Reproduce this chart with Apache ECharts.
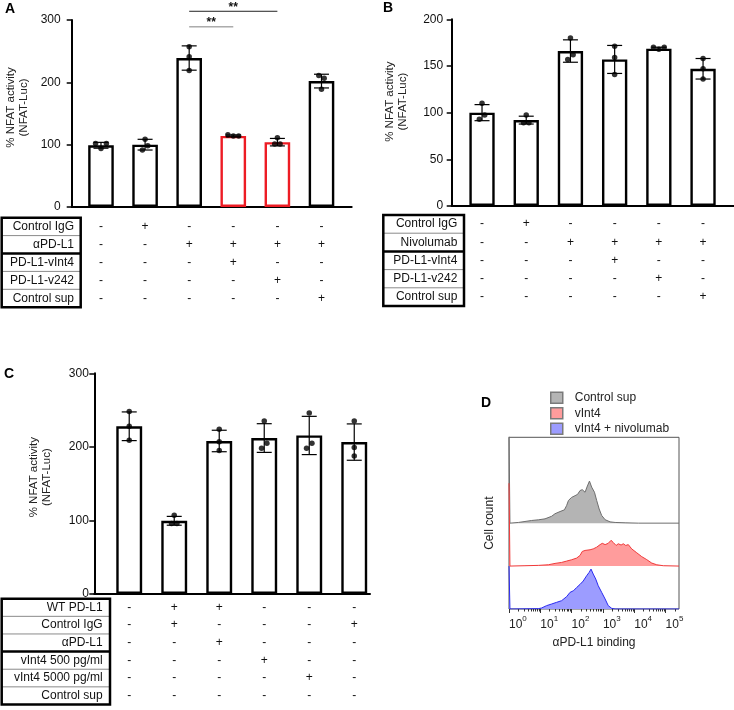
<!DOCTYPE html>
<html><head><meta charset="utf-8">
<script src="https://cdn.jsdelivr.net/npm/echarts@6/dist/echarts.min.js"></script>
<style>html,body{margin:0;padding:0;background:#fff}#c{width:734px;height:710px}</style>
</head><body><div id="c"></div>
<script>
const FONT = '"Liberation Sans", Arial, Helvetica, sans-serif';

// ---------------- Panel A ----------------
const rowsA = ['Control IgG', 'αPD-L1', 'PD-L1-vInt4', 'PD-L1-v242', 'Control sup'];
const signsA = ['-+----', '--++++', '---+--', '----+-', '-----+'];
const yTicksA = [0, 100, 200, 300];
const meanA = [99, 100, 239, 114, 104, 202];
const sdA = [4.7, 8.6, 19.5, 1.5, 6, 11];
const dotsA = [[102, 94, 102], [91.5, 108.6, 98.4], [257, 241, 219], [116, 114, 114], [111, 101, 101], [211, 189, 206.5]];
const sigFromA = [3, 3];
const sigToA = [4, 5];
const sigLevelA = [289, 314];
const sigTextA = ['**', '**'];
const highlightA = [4, 5];

// ---------------- Panel B ----------------
const rowsB = ['Control IgG', 'Nivolumab', 'PD-L1-vInt4', 'PD-L1-v242', 'Control sup'];
const signsB = ['-+----', '--++++', '---+--', '----+-', '-----+'];
const yTicksB = [0, 50, 100, 150, 200];
const meanB = [100, 92, 166, 157, 168.5, 147];
const sdB = [8.6, 4.2, 12, 15, 1.6, 11];
const dotsB = [[92.8, 110, 97.4], [89.2, 97.4, 89.2], [157, 180, 162], [171, 159, 141], [170, 168, 170], [158, 147, 136]];

// ---------------- Panel C ----------------
const rowsC = ['WT PD-L1', 'Control IgG', 'αPD-L1', 'vInt4 500 pg/ml', 'vInt4 5000 pg/ml', 'Control sup'];
const signsC = ['-++---', '-+---+', '--+---', '---+--', '----+-', '------'];
const yTicksC = [0, 100, 200, 300];
const meanC = [228, 99.5, 208, 212, 215.5, 206.5];
const sdC = [19.5, 6, 14.6, 19.5, 26, 24.7];
const dotsC = [[248, 228, 209], [96, 107, 96], [224, 207, 195], [198, 235, 205], [198, 246, 205], [235, 199, 187.5]];

// ---------------- Panel D (log10 of binding, normalised count) ----------------
const histNames = ['Control sup', 'vInt4', 'vInt4 + nivolumab'];
const decadeTicks = [0, 1, 2, 3, 4, 5];
const grayLog = [0, 0.03, 0.30, 0.51, 0.72, 0.94, 1.15, 1.36, 1.47, 1.63, 1.77, 1.84, 1.90, 2.00, 2.11, 2.19, 2.27, 2.34, 2.43, 2.49, 2.57, 2.64, 2.73, 2.80, 2.88, 2.96, 3.07, 3.23, 3.39, 3.71, 4.13, 5.43];
const grayCount = [2.1, 0, 0.016, 0.039, 0.062, 0.078, 0.10, 0.16, 0.22, 0.27, 0.31, 0.41, 0.53, 0.60, 0.64, 0.67, 0.76, 0.78, 0.72, 0.84, 0.98, 0.84, 0.72, 0.53, 0.33, 0.18, 0.08, 0.03, 0.016, 0.008, 0, 0];
const redLog = [0, 0.03, 0.51, 0.94, 1.26, 1.47, 1.68, 1.84, 2.00, 2.16, 2.27, 2.34, 2.43, 2.59, 2.69, 2.80, 2.91, 2.98, 3.07, 3.17, 3.26, 3.33, 3.42, 3.49, 3.58, 3.65, 3.73, 3.81, 3.92, 4.08, 4.24, 4.40, 4.56, 4.72, 4.93, 5.43];
const redCount = [1.93, 0, 0.008, 0.016, 0.031, 0.062, 0.085, 0.116, 0.147, 0.186, 0.248, 0.341, 0.364, 0.38, 0.40, 0.44, 0.50, 0.53, 0.50, 0.53, 0.60, 0.55, 0.48, 0.52, 0.49, 0.52, 0.48, 0.50, 0.40, 0.31, 0.22, 0.15, 0.07, 0.03, 0.008, 0];
const blueLog = [0, 0.03, 0.94, 1.04, 1.20, 1.36, 1.52, 1.68, 1.84, 1.95, 2.06, 2.16, 2.27, 2.37, 2.48, 2.56, 2.62, 2.69, 2.77, 2.85, 2.96, 3.07, 3.17, 3.28, 3.39, 5.43];
const blueCount = [1.0, 0, 0.008, 0.023, 0.078, 0.116, 0.155, 0.194, 0.287, 0.388, 0.426, 0.50, 0.574, 0.651, 0.775, 0.853, 0.93, 0.814, 0.698, 0.543, 0.388, 0.233, 0.078, 0.016, 0, 0];

// ================= build =================
const grid = [], xAxis = [], yAxis = [], series = [], graphic = [];
const RED = '#ed1c24';

function dotOffsets(vals, pxPerVal, thr, spacing) {
  const n = vals.length;
  const idx = vals.map((v, i) => i).sort((a, b) => vals[a] - vals[b]);
  const clusters = []; let cur = [idx[0]];
  for (let k = 1; k < n; k++) {
    if ((vals[idx[k]] - vals[idx[k - 1]]) * pxPerVal < thr) cur.push(idx[k]);
    else { clusters.push(cur); cur = [idx[k]]; }
  }
  clusters.push(cur);
  const off = new Array(n).fill(0);
  clusters.forEach(c => { c.sort((a, b) => a - b); c.forEach((i, j) => { off[i] = (j - (c.length - 1) / 2) * spacing; }); });
  return off;
}

function addBarPanel(p) {
  const gi = grid.length;
  grid.push({left: p.left, top: p.top, width: p.width, height: p.height, outerBoundsMode: 'none'});
  xAxis.push({type: 'value', gridIndex: gi, min: p.xmin, max: p.xmax,
    axisLine: {show: true, onZero: false, lineStyle: {color: '#000', width: 2}},
    axisTick: {show: false}, axisLabel: {show: false}, splitLine: {show: false}});
  const yt = p.yTicks;
  yAxis.push({type: 'value', gridIndex: gi, min: yt[0], max: yt[yt.length - 1], interval: yt[1] - yt[0],
    axisLine: {show: true, lineStyle: {color: '#000', width: 2}},
    axisTick: {show: true, length: 5, lineStyle: {color: '#000', width: 1.5}},
    axisLabel: {margin: p.labelMargin, fontSize: 12, color: '#111', fontFamily: FONT},
    splitLine: {show: false},
    name: '% NFAT activity\n(NFAT-Luc)', nameLocation: 'middle', nameGap: p.nameGap,
    nameTextStyle: {fontSize: 11.5, color: '#222', fontFamily: FONT, lineHeight: 13, padding: [0, 0, 0, p.nameShift]}});
  const xi = xAxis.length - 1, yi = yAxis.length - 1;
  const unitPx = p.width / (p.xmax - p.xmin);
  const pxPerVal = p.height / (yt[yt.length - 1] - yt[0]);
  series.push({type: 'bar', xAxisIndex: xi, yAxisIndex: yi, barWidth: p.barW, z: 2, silent: true,
    data: p.means.map((m, i) => ({value: [i + 1, m],
      itemStyle: {color: '#fff', borderColor: (p.highlight || []).includes(i + 1) ? RED : '#000', borderWidth: 2.4}}))});
  series.push({type: 'custom', xAxisIndex: xi, yAxisIndex: yi, z: 3, silent: true,
    data: p.means.map((m, i) => [i + 1, m, p.sd[i]]),
    renderItem: (params, api) => {
      const x = api.value(0), m = api.value(1), s = api.value(2);
      const t = api.coord([x, m + s]), b = api.coord([x, m - s]);
      const cw = 7.5, st = {stroke: '#000', lineWidth: 1.2};
      return {type: 'group', children: [
        {type: 'line', shape: {x1: t[0], y1: t[1], x2: b[0], y2: b[1]}, style: st},
        {type: 'line', shape: {x1: t[0] - cw, y1: t[1], x2: t[0] + cw, y2: t[1]}, style: st},
        {type: 'line', shape: {x1: b[0] - cw, y1: b[1], x2: b[0] + cw, y2: b[1]}, style: st}]};
    }});
  const dotData = [];
  p.dots.forEach((vals, i) => {
    const off = dotOffsets(vals, pxPerVal, 5.5, 5.4);
    vals.forEach((v, j) => dotData.push([i + 1 + off[j] / unitPx, v]));
  });
  series.push({type: 'scatter', xAxisIndex: xi, yAxisIndex: yi, z: 4, silent: true, symbolSize: 5.5,
    itemStyle: {color: '#000'}, data: dotData});
  return {xi, yi};
}

function addTable(t) {
  const gi = grid.length;
  const n = t.rows.length;
  grid.push({left: t.left, top: t.top, width: t.width, height: t.rowH * n, outerBoundsMode: 'none'});
  xAxis.push({type: 'value', gridIndex: gi, min: t.xmin, max: t.xmax, show: false});
  yAxis.push({type: 'category', gridIndex: gi, data: t.rows, inverse: true,
    axisLine: {show: false}, axisTick: {show: false}, splitLine: {show: false},
    axisLabel: {interval: 0, margin: t.left - t.labelRight, fontSize: 12, color: '#111', fontFamily: FONT}});
  const xi = xAxis.length - 1, yi = yAxis.length - 1;
  const data = [];
  t.signs.forEach((s, r) => { for (let c = 0; c < s.length; c++) data.push([c + 1, r, s[c] === '+' ? 1 : 0]); });
  series.push({type: 'custom', xAxisIndex: xi, yAxisIndex: yi, silent: true, data,
    renderItem: (params, api) => {
      const pt = api.coord([api.value(0), api.value(1)]);
      return {type: 'text', x: pt[0], y: pt[1],
        style: {text: api.value(2) ? '+' : '-', align: 'center', verticalAlign: 'middle',
          textAlign: 'center', textVerticalAlign: 'middle', fontSize: 12, fill: '#111', fontFamily: FONT}};
    }});
  const bottom = t.top + t.rowH * n;
  for (let r = 1; r < n; r++) {
    const y = t.top + r * t.rowH;
    const thick = r === t.thickAfter;
    graphic.push({type: 'line', silent: true, shape: {x1: t.boxLeft, y1: y, x2: t.boxRight, y2: y},
      style: {stroke: thick ? '#000' : '#8a8a8a', lineWidth: thick ? 2.5 : 1}});
  }
  graphic.push({type: 'rect', silent: true, shape: {x: t.boxLeft, y: t.top, width: t.boxRight - t.boxLeft, height: bottom - t.top},
    style: {fill: 'none', stroke: '#000', lineWidth: 2.5}});
}

// Panel A
const PA = {left: 71.7, top: 20, width: 280, height: 187, xmin: 0.336, xmax: 6.685};
const axA = addBarPanel(Object.assign({}, PA, {yTicks: yTicksA, means: meanA, sd: sdA, dots: dotsA, barW: 25.6,
  highlight: highlightA, labelMargin: 11, nameGap: 41, nameShift: 12}));
series.push({type: 'custom', xAxisIndex: axA.xi, yAxisIndex: axA.yi, clip: false, silent: true, z: 5,
  data: sigFromA.map((f, i) => [f, sigToA[i], sigLevelA[i], i]),
  renderItem: (params, api) => {
    const a = api.coord([api.value(0), api.value(2)]), b = api.coord([api.value(1), api.value(2)]);
    const col = api.value(3) === 0 ? '#808080' : '#222';
    return {type: 'group', children: [
      {type: 'line', shape: {x1: a[0], y1: a[1], x2: b[0], y2: b[1]}, style: {stroke: col, lineWidth: 1}},
      {type: 'text', x: (a[0] + b[0]) / 2, y: a[1] - 4, style: {text: sigTextA[params.dataIndex], align: 'center', verticalAlign: 'middle',
        textAlign: 'center', textVerticalAlign: 'middle', fontSize: 12, fontWeight: 'bold', fill: '#111', fontFamily: FONT}}]};
  }});
addTable({left: PA.left, width: PA.width, xmin: PA.xmin, xmax: PA.xmax, top: 217.7, rowH: 17.9, rows: rowsA, signs: signsA,
  labelRight: 74, boxLeft: 1.7, boxRight: 80.7, thickAfter: 2});

// Panel B
const PB = {left: 451.7, top: 19.3, width: 282.3, height: 186.7, xmin: 0.314, xmax: 6.70};
addBarPanel(Object.assign({}, PB, {yTicks: yTicksB, means: meanB, sd: sdB, dots: dotsB, barW: 25.3,
  labelMargin: 8.5, nameGap: 42, nameShift: 22}));
addTable({left: PB.left, width: PB.width, xmin: PB.xmin, xmax: PB.xmax, top: 215, rowH: 18.2, rows: rowsB, signs: signsB,
  labelRight: 457.3, boxLeft: 383.3, boxRight: 464, thickAfter: 2});

// Panel C
const PC = {left: 94.3, top: 373.3, width: 275.7, height: 220.7, xmin: 0.224, xmax: 6.35};
addBarPanel(Object.assign({}, PC, {yTicks: yTicksC, means: meanC, sd: sdC, dots: dotsC, barW: 25.9,
  labelMargin: 5.5, nameGap: 41, nameShift: 13}));
addTable({left: PC.left, width: PC.width, xmin: PC.xmin, xmax: PC.xmax, top: 598.7, rowH: 17.63, rows: rowsC, signs: signsC,
  labelRight: 102.7, boxLeft: 1.7, boxRight: 110, thickAfter: 3});

// Panel D
const gD = grid.length;
grid.push({left: 509, top: 437.3, width: 170, height: 171.7, show: true, borderColor: '#555', borderWidth: 1,
  backgroundColor: 'transparent', outerBoundsMode: 'none'});
const minorTicks = [];
for (let d = 0; d <= 5; d++) for (let k = 2; k <= 9; k++) { const v = d + Math.log10(k); if (v < 5.43) minorTicks.push(v); }
xAxis.push({type: 'value', gridIndex: gD, min: 0, max: 5.43, position: 'bottom',
  axisLine: {show: false}, splitLine: {show: false},
  axisTick: {show: true, customValues: decadeTicks, length: 4, lineStyle: {color: '#333', width: 1}},
  axisLabel: {show: true, customValues: decadeTicks, align: 'left', margin: 6,
    formatter: v => '{b|10}{s|' + Math.round(v) + '}',
    rich: {b: {fontSize: 12, fontFamily: FONT, color: '#222', lineHeight: 16, verticalAlign: 'bottom'},
           s: {fontSize: 8, fontFamily: FONT, color: '#222', lineHeight: 10, verticalAlign: 'top'}}},
  name: 'αPD-L1 binding', nameLocation: 'middle', nameGap: 28,
  nameTextStyle: {fontSize: 12, color: '#222', fontFamily: FONT}});
const xD = xAxis.length - 1;
xAxis.push({type: 'value', gridIndex: gD, min: 0, max: 5.43, position: 'bottom', offset: 0,
  axisLine: {show: false}, splitLine: {show: false}, axisLabel: {show: false},
  axisTick: {show: true, customValues: minorTicks, length: 2.5, lineStyle: {color: '#333', width: 1}}});
yAxis.push({type: 'value', gridIndex: gD, min: 0, max: 4,
  axisLine: {show: false}, axisTick: {show: false}, axisLabel: {show: false}, splitLine: {show: false},
  name: 'Cell count', nameLocation: 'middle', nameGap: 13,
  nameTextStyle: {fontSize: 12, color: '#222', fontFamily: FONT}});
const yD = yAxis.length - 1;
const hist = [
  {name: histNames[0], xs: grayLog, ys: grayCount, base: 2, line: '#6e6e6e', fill: '#b4b4b4'},
  {name: histNames[1], xs: redLog, ys: redCount, base: 1, line: '#f03a3a', fill: '#ff9c9c'},
  {name: histNames[2], xs: blueLog, ys: blueCount, base: 0, line: '#2b2bf0', fill: '#9c9cff'}];
hist.forEach((h, i) => {
  series.push({type: 'line', name: h.name, xAxisIndex: xD, yAxisIndex: yD, symbol: 'none', silent: true, z: 2 + i,
    data: h.xs.map((x, j) => [x, h.base + h.ys[j]]),
    lineStyle: {color: h.line, width: 1}, itemStyle: {color: h.fill},
    areaStyle: {color: h.fill, opacity: 1, origin: h.base}});
});

// panel letters
[['A', 5, 2], ['B', 383, 1], ['C', 4, 367], ['D', 481, 396]].forEach(l => {
  graphic.push({type: 'text', x: l[1], y: l[2], silent: true,
    style: {text: l[0], fontSize: 14, fontWeight: 'bold', fontFamily: FONT, fill: '#000'}});
});

const chart = echarts.init(document.getElementById('c'), null, {renderer: 'canvas', width: 734, height: 710});
chart.setOption({
  backgroundColor: '#fff',
  animation: false,
  grid, xAxis, yAxis, series, graphic,
  legend: {orient: 'vertical', left: 550, top: 391.5, padding: 0, itemWidth: 12, itemHeight: 11, itemGap: 3,
    selectedMode: false,
    textStyle: {fontSize: 12, color: '#222', fontFamily: FONT, padding: [0, 0, 0, 7]},
    data: [
      {name: histNames[0], icon: 'rect', itemStyle: {color: '#b4b4b4', borderColor: '#7a7a7a', borderWidth: 1.5}},
      {name: histNames[1], icon: 'rect', itemStyle: {color: '#ff9c9c', borderColor: '#7a7a7a', borderWidth: 1.5}},
      {name: histNames[2], icon: 'rect', itemStyle: {color: '#9c9cff', borderColor: '#7a7a7a', borderWidth: 1.5}}]}
});
</script>
</body></html>
